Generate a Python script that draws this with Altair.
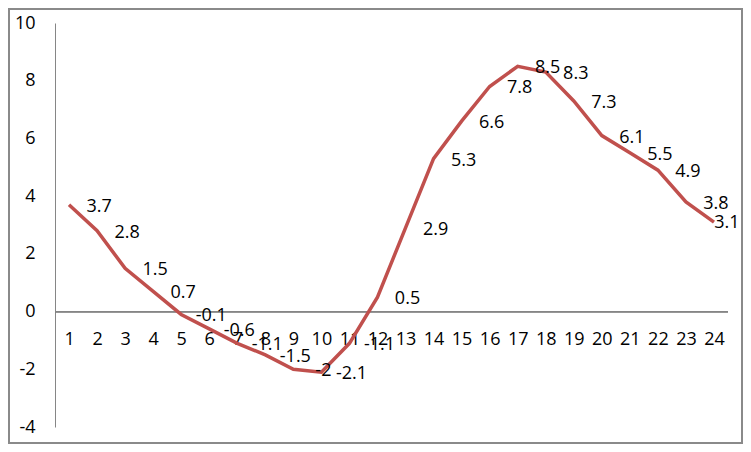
import altair as alt
import pandas as pd

hours = list(range(1, 25))
values = [3.7, 2.8, 1.5, 0.7, -0.1, -0.6, -1.1, -1.5, -2, -2.1, -1.1, 0.5,
          2.9, 5.3, 6.6, 7.8, 8.5, 8.3, 7.3, 6.1, 5.5, 4.9, 3.8, 3.1]
y_ticks = [-4, -2, 0, 2, 4, 6, 8, 10]
y_domain = [-4, 10]

labels_txt = [f"{v:g}" for v in values]
df = pd.DataFrame({"x": hours, "v": values, "lab": labels_txt})

W, H = 673, 404
PAD_L, PAD_T, PAD_R, PAD_B = 47, 15, 15, 17
FONT = "Open Sans"
FS = 18
GRAY = "#868686"
zero_off = H * (0 - y_domain[0]) / (y_domain[1] - y_domain[0])
step = W / len(hours)

xscale = alt.Scale(type="point", padding=0.5)
yscale = alt.Scale(domain=y_domain, nice=False, zero=False)

xenc = alt.X("x:O", scale=xscale,
             axis=alt.Axis(orient="bottom", offset=-zero_off, domain=False, ticks=False,
                           labelPadding=19, labelAngle=0, labelFontSize=FS, labelFont=FONT,
                           labelColor="#000000", title=None, grid=False))
yenc = alt.Y("v:Q", scale=yscale,
             axis=alt.Axis(values=y_ticks, domain=True, domainColor=GRAY, domainWidth=1,
                           ticks=False, grid=False, labelPadding=20, labelFontSize=FS,
                           labelFont=FONT, labelColor="#000000", title=None,
                           labelExpr="toString(datum.value)"))

base = alt.Chart(df)

zero_rule = base.mark_rule(color=GRAY, strokeWidth=1).encode(y=alt.datum(0))

line = base.mark_line(color="#C0504D", strokeWidth=3.5).encode(x=xenc, y=yenc)

labels = base.mark_text(dx=step + 2, dy=2, baseline="middle", align="center", fontSize=FS,
                        font=FONT, color="#000000").encode(
    x=alt.X("x:O"), y=alt.Y("v:Q"), text=alt.Text("lab:N")
).transform_filter(alt.datum.x < 24)

last_label = base.mark_text(dx=13, dy=1, baseline="middle", align="center", fontSize=FS,
                            font=FONT, color="#000000").encode(
    x=alt.X("x:O"), y=alt.Y("v:Q"), text=alt.Text("lab:N")
).transform_filter(alt.datum.x == 24)

bd = alt.Chart(pd.DataFrame({"a": [0]}))
BC = "#8a8a8a"
b_top = bd.mark_rule(color=BC, strokeWidth=2).encode(
    x=alt.value(-PAD_L), x2=alt.value(W + PAD_R), y=alt.value(1 - PAD_T))
b_bot = bd.mark_rule(color=BC, strokeWidth=2).encode(
    x=alt.value(-PAD_L), x2=alt.value(W + PAD_R), y=alt.value(H + PAD_B - 1))
b_left = bd.mark_rule(color=BC, strokeWidth=2).encode(
    x=alt.value(1 - PAD_L), y=alt.value(-PAD_T), y2=alt.value(H + PAD_B))
b_right = bd.mark_rule(color=BC, strokeWidth=2).encode(
    x=alt.value(W + PAD_R - 1), y=alt.value(-PAD_T), y2=alt.value(H + PAD_B))

chart = alt.layer(zero_rule, line, labels, last_label, b_top, b_bot, b_left, b_right).properties(
    width=W, height=H,
    background="white",
    autosize=alt.AutoSizeParams(type="none"),
    padding={"left": PAD_L, "top": PAD_T, "right": PAD_R, "bottom": PAD_B},
).configure_view(stroke=None)

chart.save("out.html", embed_options={"renderer": "svg", "actions": False})
